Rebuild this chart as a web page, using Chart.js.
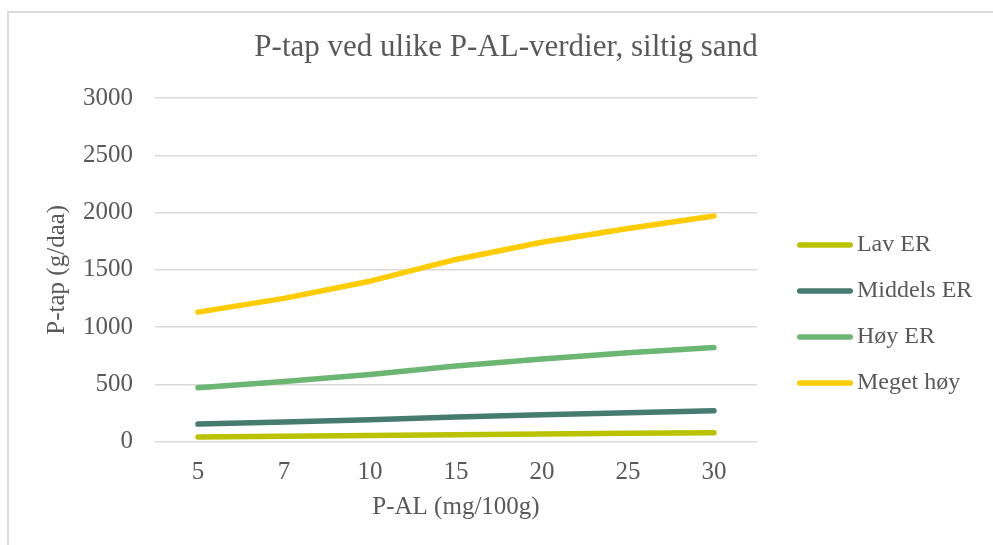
<!DOCTYPE html>
<html lang="no">
<head>
<meta charset="utf-8">
<title>P-tap ved ulike P-AL-verdier, siltig sand</title>
<script src="https://cdn.jsdelivr.net/npm/chart.js@4.4.1/dist/chart.umd.min.js"></script>
<style>
  html, body { margin: 0; padding: 0; background: #ffffff; overflow: hidden; }
  #wrap { position: relative; width: 993px; height: 545px; overflow: hidden; }
  #frame { position: absolute; left: 7px; top: 11px; width: 1100px; height: 700px;
           border: 2px solid #dcdcdc; box-sizing: border-box; pointer-events: none; }
  canvas { position: absolute; left: 0; top: 0; }
</style>
</head>
<body>
<div id="wrap">
  <div id="frame"></div>
  <canvas id="chart" width="993" height="545"></canvas>
</div>
<script>
// P-AL classes (mg/100g) on the category axis
const categories = ['5', '7', '10', '15', '20', '25', '30'];

// P loss (g/daa) per erosion risk class
const lavER     = [40, 46, 52, 60, 66, 72, 76];
const middelsER = [152, 170, 190, 213, 233, 252, 268];
const hoyER     = [470, 525, 585, 660, 720, 775, 820];
const megetHoy  = [1130, 1250, 1400, 1590, 1740, 1860, 1970];

const seriesNames = ['Lav ER', 'Middels ER', 'Høy ER', 'Meget høy'];
const yTicks = [0, 500, 1000, 1500, 2000, 2500, 3000];

const colors = ['#b9c300', '#467b70', '#6bb672', '#ffcc00'];
const FONT = "'Liberation Serif', 'DejaVu Serif', serif";
const TEXT = '#595959';
const LINE_W = 5.5;

// Legend swatch: a short rounded line, drawn at the right end of a wider transparent image
function swatch(color) {
  const c = document.createElement('canvas');
  c.width = 82; c.height = 10;
  const g = c.getContext('2d');
  g.strokeStyle = color;
  g.lineWidth = LINE_W;
  g.lineCap = 'round';
  g.beginPath();
  g.moveTo(26 + LINE_W / 2, 5);
  g.lineTo(82 - LINE_W / 2, 5);
  g.stroke();
  return c;
}
const swatches = colors.map(swatch);

const seriesData = [lavER, middelsER, hoyER, megetHoy];
const datasets = seriesNames.map((name, i) => ({
  label: name,
  data: seriesData[i],
  borderColor: colors[i],
  backgroundColor: colors[i],
  borderWidth: LINE_W,
  borderCapStyle: 'round',
  borderJoinStyle: 'round',
  pointRadius: 0,
  pointHoverRadius: 0,
  tension: 0,
  fill: false
}));

const PAD_L = 29.7, PAD_R = 10.7, PAD_B = 19;

new Chart(document.getElementById('chart'), {
  type: 'line',
  data: { labels: categories, datasets },
  options: {
    responsive: false,
    animation: false,
    events: [],
    layout: { padding: { left: PAD_L, right: PAD_R, top: 0, bottom: PAD_B } },
    plugins: {
      title: {
        display: true,
        text: 'P-tap ved ulike P-AL-verdier, siltig sand',
        color: TEXT,
        font: { family: FONT, size: 31, weight: 'normal', lineHeight: 1.2 },
        padding: { top: 29.4, bottom: 31.4 }
      },
      legend: {
        position: 'right',
        align: 'center',
        // empty heading keeps the legend entries below the chart title band
        title: {
          display: true,
          text: ' ',
          font: { family: FONT, size: 12, lineHeight: 1.2 },
          padding: { top: 87.6, bottom: 0 }
        },
        labels: {
          color: TEXT,
          font: { family: FONT, size: 24, lineHeight: 1.2 },
          padding: 22,
          usePointStyle: true,
          pointStyleWidth: 66,
          boxHeight: 24,
          generateLabels(chart) {
            const items = Chart.defaults.plugins.legend.labels.generateLabels(chart);
            items.forEach(it => { it.pointStyle = swatches[it.datasetIndex]; });
            return items;
          }
        }
      },
      tooltip: { enabled: false }
    },
    scales: {
      x: {
        type: 'category',
        offset: true,
        grid: { display: false, drawTicks: false },
        border: { display: false },
        ticks: {
          color: TEXT,
          font: { family: FONT, size: 25 },
          padding: 15.5,
          maxRotation: 0,
          autoSkip: false
        },
        title: {
          display: true,
          text: 'P-AL (mg/100g)',
          color: TEXT,
          font: { family: FONT, size: 25, lineHeight: 1.2 },
          padding: { top: 0, bottom: 4 }
        },
        afterFit(scale) { scale.height = 545 - PAD_B - 441.5; }
      },
      y: {
        min: yTicks[0],
        max: yTicks[yTicks.length - 1],
        afterBuildTicks(scale) { scale.ticks = yTicks.map(v => ({ value: v })); },
        grid: { color: '#d9d9d9', lineWidth: 1.5, drawTicks: false },
        border: { display: false },
        ticks: {
          color: TEXT,
          font: { family: FONT, size: 25 },
          padding: 22,
          callback: v => String(v)
        },
        title: {
          display: true,
          text: 'P-tap (g/daa)',
          color: TEXT,
          font: { family: FONT, size: 25, lineHeight: 1.2 },
          padding: { top: 12.3, bottom: 0 }
        },
        afterFit(scale) { scale.width = 155 - PAD_L; }
      }
    }
  }
});
</script>
</body>
</html>
